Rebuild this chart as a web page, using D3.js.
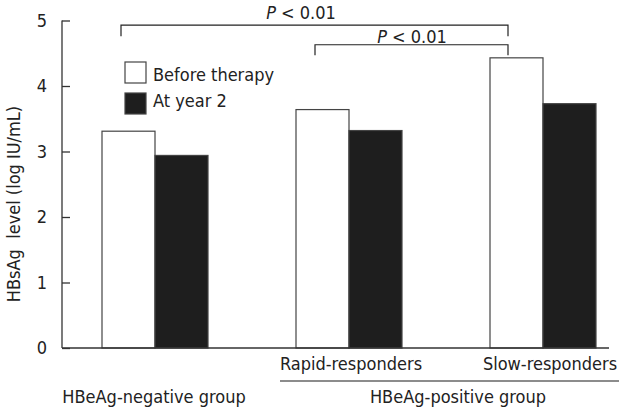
<!DOCTYPE html>
<html><head><meta charset="utf-8">
<script src="https://cdn.jsdelivr.net/npm/d3@7"></script>
<style>
html,body{margin:0;padding:0;background:#fff;}
svg text{font-family:"DejaVu Sans Condensed","DejaVu Sans",sans-serif;font-stretch:condensed;fill:#222;}
</style></head>
<body><svg id="c" width="630" height="415"></svg>
<script>
const categories = ["HBeAg-negative", "Rapid-responders", "Slow-responders"];
const seriesNames = ["Before therapy", "At year 2"];
const beforeTherapy = [3.31, 3.64, 4.43];
const atYear2 = [2.94, 3.32, 3.73];
const yTicks = [0, 1, 2, 3, 4, 5];
const subLabels = ["", "Rapid-responders", "Slow-responders"];
const groupLabels = ["HBeAg-negative group", "HBeAg-positive group"];
const comparisons = [
  {from: "HBeAg-negative", to: "Slow-responders", label: "< 0.01", level: 4.93, drop: 4.76},
  {from: "Rapid-responders", to: "Slow-responders", label: "< 0.01", level: 4.63, drop: 4.47}
];

const svg = d3.select("#c");
const y = d3.scaleLinear().domain([0, 5]).range([348, 20.5]);
const x = d3.scalePoint().domain(categories).range([155, 543]);
const sub = d3.scaleBand().domain(seriesNames).range([-53, 53]).padding(0);
const fills = {"Before therapy": "#ffffff", "At year 2": "#1e1e1e"};
const series = [beforeTherapy, atYear2];

// bars
categories.forEach((c, i) => {
  seriesNames.forEach((s, j) => {
    svg.append("rect")
      .attr("x", x(c) + sub(s))
      .attr("y", y(series[j][i]))
      .attr("width", sub.bandwidth())
      .attr("height", y(0) - y(series[j][i]))
      .attr("fill", fills[s])
      .attr("stroke", "#444")
      .attr("stroke-width", 1.2);
  });
});

// y axis
const yAxis = d3.axisLeft(y).tickValues(yTicks).tickSize(-8).tickPadding(15).tickFormat(d3.format("d"));
const ga = svg.append("g").attr("transform", "translate(62,0)").call(yAxis);
ga.select(".domain").attr("stroke", "#333").attr("stroke-width", 1.3).attr("d", `M0,${y(5)}V${y(0)}`);
ga.selectAll(".tick line").attr("stroke", "#333").attr("stroke-width", 1.3);
ga.selectAll(".tick text").attr("font-size", 18).attr("fill", "#222").attr("font-family", null);

// x baseline
svg.append("line").attr("x1", 62).attr("x2", 609).attr("y1", y(0)).attr("y2", y(0))
  .attr("stroke", "#333").attr("stroke-width", 1.3);

// y label
svg.append("text")
  .attr("transform", `translate(20,204) rotate(-90)`)
  .attr("text-anchor", "middle")
  .attr("font-size", 18)
  .attr("xml:space", "preserve")
  .text("HBsAg  level (log IU/mL)");

// legend
seriesNames.forEach((s, j) => {
  svg.append("rect").attr("x", 125).attr("y", 62 + j * 31).attr("width", 21).attr("height", 21)
    .attr("fill", fills[s]).attr("stroke", "#444").attr("stroke-width", 1.2);
  svg.append("text").attr("x", 153).attr("y", 80.5 + j * 26).attr("font-size", 18).text(s);
});

// comparison brackets
comparisons.forEach(cmp => {
  const x1 = x(cmp.from) - 34, x2 = x(cmp.to) - 35;
  svg.append("path")
    .attr("d", `M${x1},${y(cmp.drop)}V${y(cmp.level)}H${x2}V${y(cmp.drop)}`)
    .attr("fill", "none").attr("stroke", "#222").attr("stroke-width", 1.2);
});
const pText = [
  {cx: 301, base: 18.5},
  {cx: 412, base: 42.5}
];
comparisons.forEach((cmp, i) => {
  const t = svg.append("text").attr("x", pText[i].cx).attr("y", pText[i].base)
    .attr("text-anchor", "middle").attr("font-size", 18);
  t.append("tspan").attr("font-style", "italic").text("P");
  t.append("tspan").text(" " + cmp.label);
});

// sub category labels
categories.forEach((c, i) => {
  if (!subLabels[i]) return;
  svg.append("text").attr("x", x(c) + (i === 1 ? 2 : 7)).attr("y", 370).attr("text-anchor", "middle")
    .attr("font-size", 18).text(subLabels[i]);
});
// group separator
svg.append("line").attr("x1", 280).attr("x2", 619).attr("y1", 381).attr("y2", 381)
  .attr("stroke", "#666").attr("stroke-width", 1.5);
// group labels
svg.append("text").attr("x", 154).attr("y", 403).attr("text-anchor", "middle").attr("font-size", 18).text(groupLabels[0]);
svg.append("text").attr("x", 458).attr("y", 403).attr("text-anchor", "middle").attr("font-size", 18).text(groupLabels[1]);
</script></body></html>
